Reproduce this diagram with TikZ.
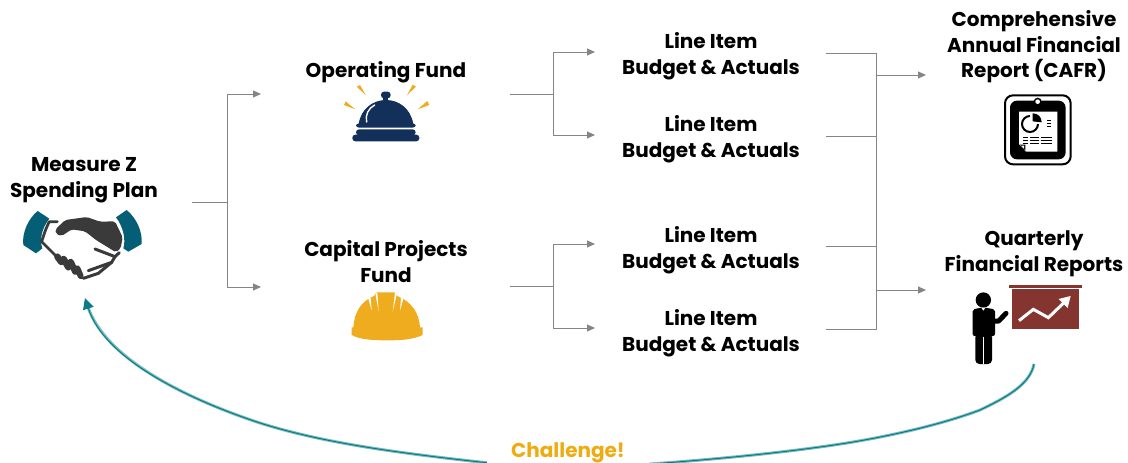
\documentclass[tikz,border=0pt]{standalone}
\usepackage{fontspec}
\setmainfont{Poppins}
\usetikzlibrary{arrows.meta}
\definecolor{linegray}{HTML}{858585}
\definecolor{tealdark}{HTML}{0B7A85}
\definecolor{teallight}{HTML}{7DBDC2}
\definecolor{cuff}{HTML}{045F76}
\definecolor{handdark}{HTML}{3A3A3A}
\definecolor{navy}{HTML}{12305A}
\definecolor{amber}{HTML}{EFAC1F}
\definecolor{chart}{HTML}{85352F}
\definecolor{chall}{HTML}{EEAC12}
\tikzset{
  x=1pt,y=-1pt,
  label/.style={font=\fontsize{20}{25.6}\selectfont\bfseries,align=center,text=black,inner sep=0pt},
  conn/.style={draw=linegray,line width=1pt},
  arr/.style={conn,-{Triangle[length=8pt,width=7pt]}},
  icon/.style={shift={(#1)},scale=1/3}
}
\begin{document}
\begin{tikzpicture}
\useasboundingbox (0,0) rectangle (1128,463);
% labels
\node[label] (mz) at (84,180) {Measure Z\\Spending Plan};
\node[label] (op) at (386,72) {Operating Fund};
\node[label] (cp) at (386,261.5) {Capital Projects\\Fund};
\node[label] (li1) at (711,56) {Line Item\\Budget \& Actuals};
\node[label] (li2) at (711,139) {Line Item\\Budget \& Actuals};
\node[label] (li3) at (711,250) {Line Item\\Budget \& Actuals};
\node[label] (li4) at (711,333) {Line Item\\Budget \& Actuals};
\node[label] (cafr) at (1034,47) {Comprehensive\\Annual Financial\\Report (CAFR)};
\node[label] (qfr) at (1034,254) {Quarterly\\Financial Reports};
% connector points
\coordinate (a0) at (192,202); \coordinate (aj) at (227,202);
\coordinate (a1) at (227,94);  \coordinate (a2) at (227,287);
\coordinate (a1e) at (261,94); \coordinate (a2e) at (261,287);
\coordinate (b0) at (510,94);  \coordinate (bj) at (553,94);
\coordinate (b1) at (553,52);  \coordinate (b2) at (553,135);
\coordinate (b1e) at (595,52); \coordinate (b2e) at (595,135);
\coordinate (c0) at (510,286); \coordinate (cj) at (553,286);
\coordinate (c1) at (553,244); \coordinate (c2) at (553,328);
\coordinate (c1e) at (595,244);\coordinate (c2e) at (595,328);
\coordinate (d1) at (826,53);  \coordinate (d1j) at (876,53);
\coordinate (d2) at (826,136); \coordinate (d2j) at (876,136);
\coordinate (d3) at (826,246); \coordinate (d3j) at (876,246);
\coordinate (d4) at (826,329); \coordinate (d4j) at (876,329);
\coordinate (e1) at (876,75);  \coordinate (e1e) at (926,75);
\coordinate (e2) at (876,290); \coordinate (e2e) at (926,290);
% connectors
\draw[conn] (a0) -- (aj);
\draw[conn] (a1) -- (a2);
\draw[arr] (a1) -- (a1e);
\draw[arr] (a2) -- (a2e);
\draw[conn] (b0) -- (bj);
\draw[conn] (b1) -- (b2);
\draw[arr] (b1) -- (b1e);
\draw[arr] (b2) -- (b2e);
\draw[conn] (c0) -- (cj);
\draw[conn] (c1) -- (c2);
\draw[arr] (c1) -- (c1e);
\draw[arr] (c2) -- (c2e);
\draw[conn] (d1) -- (d1j) -- (d4j) -- (d4);
\draw[conn] (d2) -- (d2j);
\draw[conn] (d3) -- (d3j);
\draw[arr] (e1) -- (e1e);
\draw[arr] (e2) -- (e2e);
% challenge curve
\coordinate (cs) at (1034,364);
\coordinate (ce) at (85,298);
\draw[teallight,line width=3pt,shorten >=8pt]
  (cs) .. controls (1030,385) and (1005,398) .. (980,410)
  .. controls (940,425) and (890,436) .. (847,443)
  .. controls (790,452) and (720,459) .. (650,464)
  .. controls (610,467) and (530,467) .. (480,462)
  .. controls (390,452) and (320,442) .. (260,423)
  .. controls (190,400) and (105,360) .. (ce);
\draw[tealdark,line width=1pt,-{Triangle[length=11pt,width=11pt]}]
  (cs) .. controls (1030,385) and (1005,398) .. (980,410)
  .. controls (940,425) and (890,436) .. (847,443)
  .. controls (790,452) and (720,459) .. (650,464)
  .. controls (610,467) and (530,467) .. (480,462)
  .. controls (390,452) and (320,442) .. (260,423)
  .. controls (190,400) and (105,360) .. (ce);
\fill[white] (487,440) rectangle (649,470);
\node[font=\fontsize{20}{24}\selectfont\bfseries,text=chall,inner sep=0pt] (ch) at (568,452.5) {Challenge!};
% handshake
\begin{scope}[icon={0,140}]
 \fill[cuff] (113,213) -- (148,236) .. controls (125,265) and (118,300) .. (127,325) -- (108,340) -- (70,315) .. controls (65,280) and (85,235) .. cycle;
 \fill[cuff] (380,210) -- (348,232) .. controls (370,260) and (378,300) .. (370,325) -- (385,335) -- (425,312) .. controls (428,275) and (410,235) .. cycle;
 \draw[handdark,line width=2.8pt,line join=round,line cap=round] (172,245) -- (148,245) .. controls (135,270) and (130,290) .. (125,305) -- (165,345);
 \fill[handdark,rounded corners=2pt] (166,268) -- (196,240) -- (260,231) -- (300,245) -- (345,244) -- (368,292) -- (362,325) -- (348,337) -- (288,300) -- (255,274) -- (215,268) -- (185,288) -- (168,282) -- cycle;
 \draw[handdark,line width=6.5pt,line cap=round] (172,350) -- (184,366);
 \draw[handdark,line width=6.5pt,line cap=round] (191,357) -- (205,382);
 \draw[handdark,line width=6.5pt,line cap=round] (212,366) -- (226,395);
 \draw[handdark,line width=6pt,line cap=round] (232,385) -- (242,408);
 \draw[handdark,line width=3pt,line cap=round,line join=round] (285,327) -- (345,350) -- (358,338);
 \draw[handdark,line width=3pt,line cap=round,line join=round] (345,350) -- (335,367) -- (265,392);
 \draw[handdark,line width=3pt,line cap=round,line join=round] (335,367) -- (295,400) -- (250,415);
\end{scope}
% bell
\begin{scope}[icon={300,50}]
 \fill[amber] (170,110) -- (180,105) -- (198,136) -- cycle;
 \fill[amber] (348,110) -- (338,104) -- (321,136) -- cycle;
 \fill[amber] (132,165) -- (137,154) -- (166,178) -- cycle;
 \fill[amber] (388,165) -- (382,153) -- (353,178) -- cycle;
 \fill[navy,rounded corners=3pt] (243,125) rectangle (272,145);
 \fill[navy] (250,140) rectangle (265,155);
 \fill[navy] (176,222) .. controls (183,175) and (220,150) .. (258,150) .. controls (296,150) and (332,175) .. (340,222) -- cycle;
 \fill[navy,rounded corners=3pt] (168,220) rectangle (347,233);
 \fill[navy,rounded corners=3pt] (168,238) rectangle (347,256);
 \fill[navy,rounded corners=3pt] (157,254) rectangle (358,274);
 \draw[white,line width=1.4pt,line cap=round] (200,216) .. controls (195,195) and (205,175) .. (224,165);
\end{scope}
% helmet
\begin{scope}[icon={300,230}]
 \fill[amber] (155,292) -- (160,292) .. controls (163,250) and (180,215) .. (222,198) -- (228,187) -- (285,187) -- (292,198) .. controls (335,215) and (358,250) .. (360,292) -- (368,292) -- (368,315) .. controls (340,328) and (310,331) .. (262,331) .. controls (210,331) and (180,328) .. (155,315) -- cycle;
 \fill[white] (205,206) -- (212,203) -- (215,242) -- cycle;
 \fill[white] (226,190) -- (232,188) -- (236,245) -- cycle;
 \fill[white] (285,188) -- (291,190) -- (278,245) -- cycle;
 \fill[white] (303,203) -- (310,206) -- (300,242) -- cycle;
\end{scope}
% tablet
\begin{scope}[icon={950,0}]
 \draw[black,line width=2pt,rounded corners=8pt] (165,286) rectangle (362,493);
 \fill[black,rounded corners=7pt] (180,302) rectangle (347,478);
 \fill[black] (263,305) circle (12);
 \fill[white] (263,305) circle (7);
 \fill[white] (207,335) -- (322,335) -- (322,455) -- (228,455) -- (207,432) -- cycle;
 \fill[black] (226,434) -- (226,452) -- (210,434) -- cycle;
 \fill[white] (222,437) -- (222,446) -- (214,437) -- cycle;
 \draw[black,line width=2pt] (240,372) circle (24);
 \fill[white] (240,372) -- (240,340) -- (275,340) -- (275,372) -- cycle;
 \fill[black] (248,364) -- (248,340) .. controls (264,340) and (275,351) .. (275,367) -- cycle;
 \foreach \yy in {361,370,379} \draw[black,line width=1pt] (291,\yy) -- (304,\yy);
 \foreach \yy in {413,422,431} {\draw[black,line width=1.2pt] (220,\yy) -- (235,\yy); \draw[black,line width=1.2pt] (240,\yy) -- (268,\yy); \draw[black,line width=1.2pt] (272,\yy) -- (306,\yy);}
\end{scope}
% presenter
\begin{scope}[icon={950,220}]
 \fill[chart] (178,194) rectangle (396,205);
 \fill[chart] (185,208) rectangle (388,328);
 \draw[white,line width=3pt] (207,302) -- (250,268) -- (295,293) -- (345,245);
 \fill[white] (362,228) -- (353,264) -- (326,237) -- cycle;
 \fill[black] (100,240) circle (23);
 \fill[black,rounded corners=2pt] (68,348) -- (68,268) -- (95,263) -- (105,263) -- (135,268) -- (135,348) -- cycle;
 \fill[black,rounded corners=4pt] (76,340) -- (76,432) -- (126,432) -- (126,340) -- cycle;
 \draw[white,line width=.5pt] (101,350) -- (101,432);
 \draw[black,line width=5pt,line cap=round,line join=round] (132,303) -- (146,303) -- (168,280);
 \fill[white] (95,265) -- (100,272) -- (105,265) -- (102,263) -- (98,263) -- cycle;
\end{scope}
\end{tikzpicture}
\end{document}
